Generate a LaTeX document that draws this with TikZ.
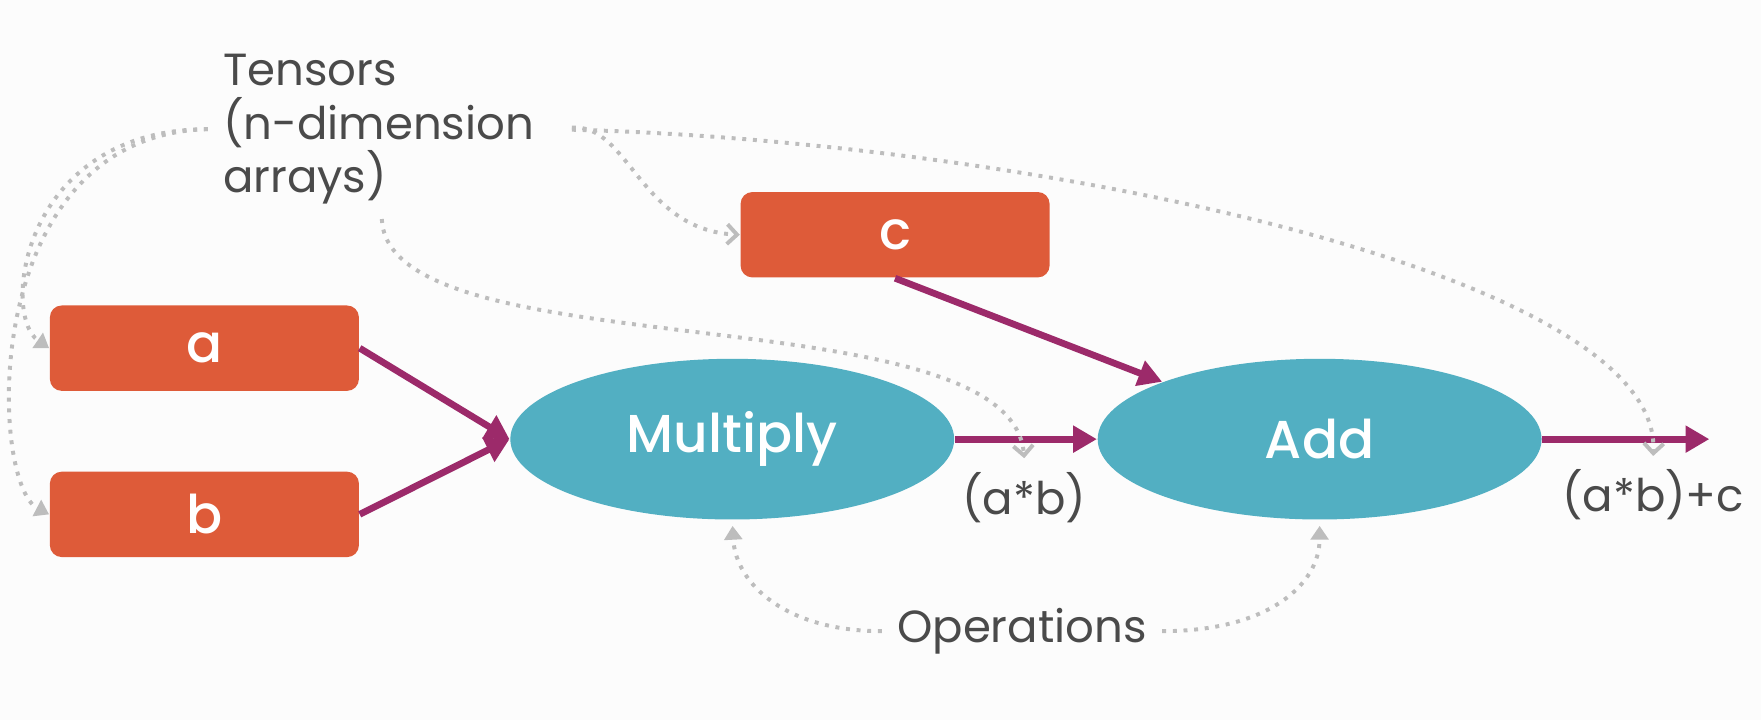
\documentclass[tikz,border=0pt]{standalone}
\usepackage{fontspec}
\setmainfont{Poppins}
\newfontfamily\medium{Poppins Medium}
\usetikzlibrary{shapes.geometric,arrows.meta}
\definecolor{bg}{HTML}{FCFCFC}
\definecolor{tensorcol}{HTML}{DE5B39}
\definecolor{opcol}{HTML}{52AFC2}
\definecolor{flowcol}{HTML}{9C2A6A}
\definecolor{hintcol}{HTML}{BDBDBD}
\definecolor{textcol}{HTML}{4A4A4A}
\tikzstyle{box} = [rectangle, rounded corners=3pt, fill=tensorcol, minimum width=2.75cm, minimum height=0.76cm, text=white, font=\medium\fontsize{13.5}{13.5}\selectfont]
\tikzstyle{op} = [ellipse, fill=opcol, minimum width=3.95cm, minimum height=1.43cm, inner sep=0pt, text=white, font=\medium\fontsize{13.5}{13.5}\selectfont]
\tikzstyle{note} = [text=textcol, inner sep=0.13cm, font=\fontsize{11.4}{13.6}\selectfont]
\tikzstyle{flow} = [draw=flowcol, line width=1.7pt, -{Triangle[length=6pt,width=6.5pt]}]
\tikzstyle{hint} = [draw=hintcol, line width=1pt, dash pattern=on 1pt off 1.7pt, -{Triangle[length=3.5pt,width=4.5pt]}]
\tikzstyle{barb} = [-{Straight Barb[length=2.5pt,width=5pt]}]

\begin{document}
\begin{tikzpicture}[x=0.01cm, y=-0.01cm]
\fill[bg] (0,0) rectangle (1568,641);
\useasboundingbox (0,0) rectangle (1568,641);
\node[note, align=left, anchor=west] (ten) at (185,115) {Tensors\\(n-dimension\\arrays)};
\node[box] (a) at (182,310) {a};
\node[box] (b) at (182,458) {b};
\node[box] (c) at (797,209) {c};
\node[op] (mul) at (652,391) {Multiply};
\node[op] (add) at (1175,391) {Add};
\node[note] (ab) at (912,443) {(a*b)};
\node[note] (abc) at (1472,440) {(a*b)+c};
\node[note] (ops) at (910,562) {Operations};
\coordinate (out) at (1522,391);
\coordinate (arr) at (340,195);
\coordinate (abtip) at (912,408);
\coordinate (outtip) at (1472,406);

\draw[flow] (a.east) -- (mul.west);
\draw[flow] (b.east) -- (mul.west);
\draw[flow] (c.south) -- (add.north west);
\draw[flow] (mul.east) -- (add.west);
\draw[flow] (add.east) -- (out);

\draw[hint] (ten.west) .. controls (20,115) and (0,280) .. (a.west);
\draw[hint] (ten.west) .. controls (-20,120) and (-10,430) .. (b.west);
\draw[hint, barb, shorten <=0.2cm] (ten.east) .. controls (560,110) and (570,205) .. (c.west);
\draw[hint, barb, shorten <=0.2cm] (ten.east) .. controls (900,125) and (1480,240) .. (outtip);
\draw[hint, barb] (arr) .. controls (345,330) and (900,260) .. (abtip);
\draw[hint, shorten >=0.05cm] (ops.west) .. controls (700,562) and (655,520) .. (mul.south);
\draw[hint, shorten >=0.05cm] (ops.east) .. controls (1130,562) and (1175,520) .. (add.south);
\end{tikzpicture}
\end{document}
